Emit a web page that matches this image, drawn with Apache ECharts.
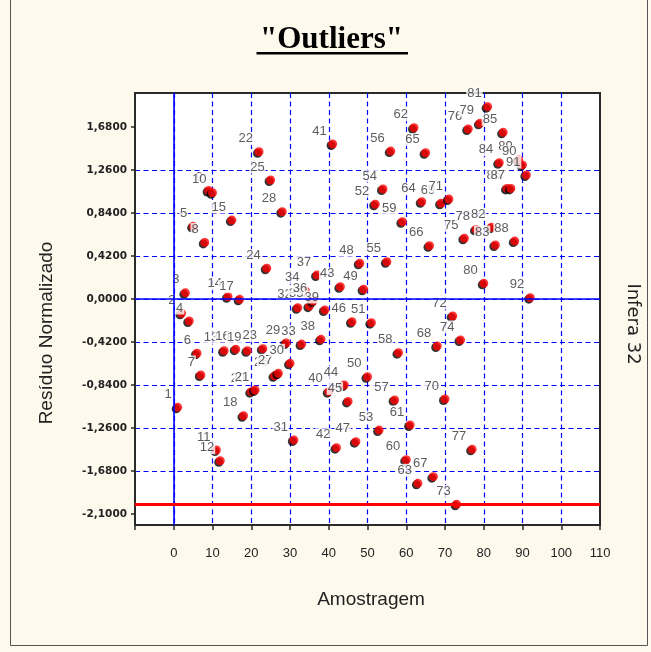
<!DOCTYPE html>
<html><head><meta charset="utf-8">
<script src="https://cdn.jsdelivr.net/npm/echarts@6/dist/echarts.min.js"></script>
<style>html,body{margin:0;padding:0;background:#fdf9ec}#c{width:651px;height:652px}</style>
</head><body><div id="c"></div>
<script>
// sample numbers (x) and normalized residuals (y)
const samples = [1,2,3,4,5,6,7,8,9,10,11,12,13,14,15,16,17,18,19,20,21,22,23,24,25,26,27,28,29,30,
  31,32,33,34,35,36,37,38,39,40,41,42,43,44,45,46,47,48,49,50,51,52,53,54,55,56,57,58,59,60,
  61,62,63,64,65,66,67,68,69,70,71,72,73,74,75,76,77,78,79,80,81,82,83,84,85,86,87,88,89,90,91,92];
const residuals = [-1.058,-0.14,0.06,-0.215,0.71,-0.53,-0.742,0.553,1.06,1.038,
  -1.475,-1.58,-0.505,0.022,0.771,-0.49,-0.003,-1.14,-0.505,-0.905,
  -0.889,1.438,-0.485,0.30,1.162,-0.75,-0.725,0.853,-0.43,-0.628,
  -1.377,-0.085,-0.44,0.08,-0.07,-0.02,0.234,-0.394,-0.107,-0.905,
  1.514,-1.452,0.12,-0.84,-1.0,-0.222,-1.393,0.349,0.095,-0.759,
  -0.231,0.925,-1.28,1.074,0.364,1.445,-0.986,-0.524,0.755,-1.57,
  -1.23,1.673,-1.80,0.95,1.429,0.52,-1.735,-0.459,0.935,-0.977,
  0.977,-0.166,-2.005,-0.40,0.593,1.66,-1.468,0.68,1.716,0.153,
  1.878,0.70,0.527,1.331,1.628,1.08,1.08,0.566,1.36,1.31,1.211,0.013];
const pointNames = samples.map(String);
const yTicks = [-2.1,-1.68,-1.26,-0.84,-0.42,0,0.42,0.84,1.26,1.68];
const xRange = [-10, 110];
const xStep = 10;
const yRange = [-2.207, 2.012];
const zeroValue = 0;
const limitValue = -2.0;
const titleText = '"Outliers"';
const xName = 'Amostragem';
const yName = 'Resíduo Normalizado';
const sideNote = 'Infera 32';

const chart = echarts.init(document.getElementById('c'), null, {renderer:'canvas'});
const blue = '#0000ff';
const frame = '#2a2a2a';
chart.setOption({
  backgroundColor: '#fdf9ec',
  animation: false,
  grid: {left:135, right:51, top:93, bottom:127, show:true, backgroundColor:'#ffffff',
         borderColor:frame, borderWidth:2},
  xAxis: {type:'value', min:xRange[0], max:xRange[1], interval:xStep,
    axisLine:{show:true, onZero:false, lineStyle:{color:frame, width:2}},
    axisTick:{show:true, length:5, lineStyle:{color:frame, width:1.5}},
    axisLabel:{margin:22, fontSize:13, color:'#222', fontFamily:'Liberation Sans, Arial',
      formatter: v => v < 0 ? '' : String(v), showMinLabel:true, showMaxLabel:true},
    splitLine:{show:true, showMinLine:false, showMaxLine:false, lineStyle:{color:blue, type:[5,3.5], width:1.2}}},
  yAxis: {type:'value', min:yRange[0], max:yRange[1],
    axisLine:{show:true, onZero:false, lineStyle:{color:frame, width:2}},
    axisTick:{show:true, length:4, customValues:yTicks, lineStyle:{color:frame, width:1.5}},
    axisLabel:{margin:8, fontSize:10.5, fontWeight:'bold', color:'#222', fontFamily:'DejaVu Sans',
      customValues:yTicks, formatter: v => v.toFixed(4).replace('.', ',')},
    splitLine:{show:true, showMinLine:false, showMaxLine:false, lineStyle:{color:blue, type:[5,3.5], width:1.2}}},
  series: [
    {type:'scatter', data:[], z:1, silent:true,
     markLine:{silent:true, symbol:'none', animation:false, label:{show:false},
       data:[
         {yAxis:zeroValue, lineStyle:{color:blue, type:'solid', width:1.6}},
         {xAxis:zeroValue, lineStyle:{color:blue, type:'solid', width:1.6}},
         {yAxis:limitValue, lineStyle:{color:'#ff0000', type:'solid', width:3}}
       ]}},
    {type:'scatter', z:3, symbol:'circle', symbolSize:9,
     data: samples.map((x,i)=>[x, residuals[i]]),
     itemStyle:{color:'#ff0000', shadowColor:'#000', shadowBlur:0, shadowOffsetX:-1.5, shadowOffsetY:1.5},
     label:{show:true, position:[-0.5,-8.5], align:'right', verticalAlign:'middle',
       formatter: p => pointNames[p.dataIndex], fontSize:13, color:'#333',
       fontFamily:'Liberation Sans, Arial', backgroundColor:'#ffffff', padding:[0,1,0,1]}}
  ],
  graphic: [
    {type:'rect', shape:{x:10.5, y:-2, width:637, height:647.5}, style:{fill:null, stroke:'#555', lineWidth:1}, silent:true},
    {type:'text', x:331.5, y:40, style:{text:titleText, font:'bold 31px "Liberation Serif", "Times New Roman", serif',
      fill:'#000', align:'center', verticalAlign:'middle'}},
    {type:'rect', shape:{x:256.5, y:52, width:151.5, height:2.5}, style:{fill:'#000'}},
    {type:'text', x:371, y:600, style:{text:xName, font:'19px "Liberation Sans", Arial, sans-serif',
      fill:'#222', align:'center', verticalAlign:'middle'}},
    {type:'text', x:47, y:333, rotation:Math.PI/2, style:{text:yName, font:'19px "Liberation Sans", Arial, sans-serif',
      fill:'#222', align:'center', verticalAlign:'middle'}},
    {type:'text', x:633, y:324, rotation:-Math.PI/2, style:{text:sideNote, font:'18px "DejaVu Sans", sans-serif',
      fill:'#222', align:'center', verticalAlign:'middle'}}
  ]
});
</script></body></html>
